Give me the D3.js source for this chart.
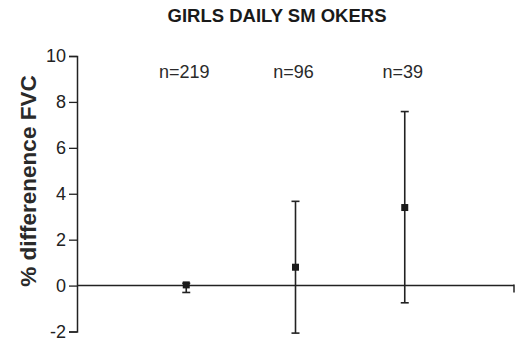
<!DOCTYPE html>
<html>
<head>
<meta charset="utf-8">
<script src="https://cdn.jsdelivr.net/npm/d3@7"></script>
<style>
  html, body { margin: 0; padding: 0; background: #fff; }
  svg { display: block; }
  text { font-family: Arial, "Liberation Sans", sans-serif; }
</style>
</head>
<body>
<svg id="chart" width="531" height="343"></svg>
<script>
// Groups and their sample sizes
const groups = ["n=219", "n=96", "n=39"];
// Mean % difference in FVC with lower / upper limits
const means = [0.03, 0.8, 3.4];
const lower = [-0.3, -2.07, -0.75];
const upper = [0.1, 3.67, 7.58];
const yTicks = [-2, 0, 2, 4, 6, 8, 10];

const svg = d3.select("#chart");
const ink = "#222";

const margin = { left: 77, right: 17 };
const W = 531;

const x = d3.scaleLinear().domain([0, groups.length + 1]).range([margin.left, W - margin.right]);
const y = d3.scaleLinear().domain([-2, 10]).range([331.5, 56]);

// Title
svg.append("text")
  .attr("x", 277).attr("y", 22)
  .attr("text-anchor", "middle")
  .attr("font-size", 18.5).attr("font-weight", "bold")
  .attr("fill", "#1a1a1a")
  .attr("xml:space", "preserve")
  .text("GIRLS DAILY SM OKERS");

// Y axis
const yAxis = d3.axisLeft(y).tickValues(yTicks).tickSize(8).tickPadding(3)
  .tickFormat(d => String(d));
const gy = svg.append("g").attr("transform", `translate(${margin.left},0)`).call(yAxis);
gy.select(".domain").attr("stroke", ink).attr("stroke-width", 1.5);
gy.selectAll(".tick line").attr("stroke", ink).attr("stroke-width", 1.3);
gy.selectAll(".tick text").attr("font-size", 18).attr("fill", "#222")
  .attr("font-family", "Arial, 'Liberation Sans', sans-serif");

// Y axis title
svg.append("text")
  .attr("transform", "translate(36,181) rotate(-90)")
  .attr("text-anchor", "middle")
  .attr("font-size", 22.5).attr("font-weight", "bold")
  .attr("fill", "#2a2a2a")
  .text("% differenence FVC");

// Zero reference line acting as the x axis, with a tick at its right end
svg.append("line")
  .attr("x1", x(0)).attr("x2", x(groups.length + 1))
  .attr("y1", y(0)).attr("y2", y(0))
  .attr("stroke", ink).attr("stroke-width", 1.5);
svg.append("line")
  .attr("x1", x(groups.length + 1)).attr("x2", x(groups.length + 1))
  .attr("y1", y(0) - 1).attr("y2", y(0) + 7)
  .attr("stroke", ink).attr("stroke-width", 1.5);

// Sample-size labels
svg.selectAll("text.n").data(groups).join("text")
  .attr("class", "n")
  .attr("x", (d, i) => x(i + 1) - 2)
  .attr("y", 78)
  .attr("text-anchor", "middle")
  .attr("font-size", 18)
  .attr("fill", "#2a2a2a")
  .text(d => d);

// Error bars
const bars = svg.append("g").selectAll("g").data(groups).join("g");
bars.append("line")
  .attr("x1", (d, i) => x(i + 1)).attr("x2", (d, i) => x(i + 1))
  .attr("y1", (d, i) => y(lower[i])).attr("y2", (d, i) => y(upper[i]))
  .attr("stroke", ink).attr("stroke-width", 1.6);
[lower, upper].forEach(lim => {
  bars.append("line")
    .attr("x1", (d, i) => x(i + 1) - 4).attr("x2", (d, i) => x(i + 1) + 4)
    .attr("y1", (d, i) => y(lim[i])).attr("y2", (d, i) => y(lim[i]))
    .attr("stroke", ink).attr("stroke-width", 1.6);
});
bars.append("rect")
  .attr("x", (d, i) => x(i + 1) - 3.5).attr("y", (d, i) => y(means[i]) - 3.5)
  .attr("width", 7).attr("height", 7)
  .attr("fill", "#1a1a1a");
</script>
</body>
</html>
